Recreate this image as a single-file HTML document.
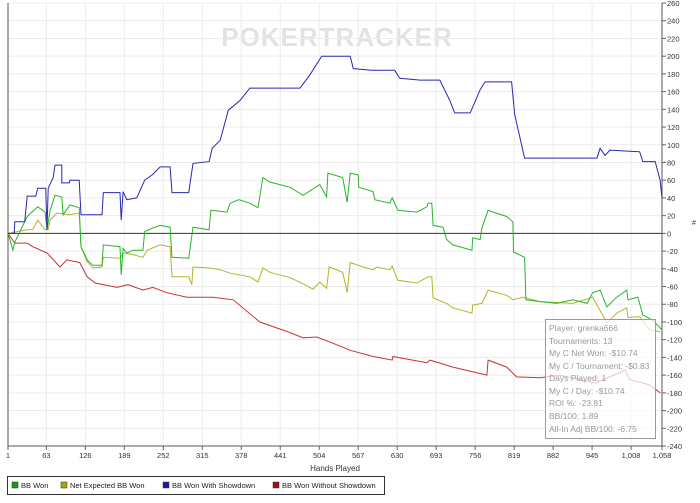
<!DOCTYPE html>
<html><head><meta charset="utf-8"><style>
body{margin:0;background:#fff;width:700px;height:498px;overflow:hidden;font-family:"Liberation Sans",sans-serif}
svg text{font-family:"Liberation Sans",sans-serif}
</style></head><body>
<svg id="c" width="700" height="498">
<text x="337" y="46" font-size="26" font-weight="bold" fill="#e2e2e2" text-anchor="middle" letter-spacing="1">POKERTRACKER</text>
<g id="grid"></g><g id="axes"></g><g id="series"></g>
<text x="335" y="471" font-size="8" fill="#333" text-anchor="middle">Hands Played</text>
<text x="694" y="225" font-size="7" fill="#333" text-anchor="middle">#</text>
<g>
<rect x="545.5" y="319.5" width="110" height="119" fill="rgba(255,255,255,0.7)" stroke="#999"/>
<g font-size="8.5" fill="#999">
<text x="549" y="331">Player: grenka666</text>
<text x="549" y="344">Tournaments: 13</text>
<text x="549" y="356">My C Net Won: -$10.74</text>
<text x="549" y="369">My C / Tournament: -$0.83</text>
<text x="549" y="381">Days Played: 1</text>
<text x="549" y="394">My C / Day: -$10.74</text>
<text x="549" y="406">ROI %: -23.81</text>
<text x="549" y="419">BB/100: 1.89</text>
<text x="549" y="432">All-In Adj BB/100: -6.75</text>
</g></g>
<g>
<rect x="7.5" y="476.5" width="377" height="18" fill="#fff" stroke="#333"/>
<g font-size="7.5" fill="#222">
<rect x="12" y="482" width="6" height="6" fill="#1a9a1a" stroke="#333" stroke-width="0.5"/><text x="21" y="488">BB Won</text>
<rect x="61" y="482" width="6" height="6" fill="#a8a800" stroke="#333" stroke-width="0.5"/><text x="70" y="488">Net Expected BB Won</text>
<rect x="163" y="482" width="6" height="6" fill="#1a1aa0" stroke="#333" stroke-width="0.5"/><text x="172" y="488">BB Won With Showdown</text>
<rect x="273" y="482" width="6" height="6" fill="#a01010" stroke="#333" stroke-width="0.5"/><text x="282" y="488">BB Won Without Showdown</text>
</g></g>
</svg>
<script>
const xTicks=[1,63,126,189,252,315,378,441,504,567,630,693,756,819,882,945,1008,1058];
const xTickLabels=["1","63","126","189","252","315","378","441","504","567","630","693","756","819","882","945","1,008","1,058"];
const yTicks=[260,240,220,200,180,160,140,120,100,80,60,40,20,0,-20,-40,-60,-80,-100,-120,-140,-160,-180,-200,-220,-240];
const greenHands=[1,9,12,32,49,61,64,69,77,88,90,101,116,119,129,138,153,155,182,184,187,193,203,219,222,235,247,263,266,293,300,326,329,355,360,374,392,405,413,424,457,478,505,516,518,542,549,554,567,568,591,594,618,622,631,662,678,680,686,688,704,710,720,751,752,764,767,777,785,807,817,818,836,838,861,888,914,937,946,958,969,985,1001,1003,1019,1027,1043,1058];
const greenValues=[0,-19,-10,19,30,24,4,26,43,41,21,32,29,-15,-30,-36,-36,-13,-15,-47,-17,-22,-19,-19,2,6,9,7,-27,-28,7,4,26,24,34,38,34,29,63,58,52,43,55,41,68,63,35,68,66,52,47,38,34,40,26,24,30,34,34,9,7,-7,-13,-19,-5,-7,6,26,24,19,13,-21,-27,-75,-77,-79,-75,-79,-67,-64,-83,-72,-64,-75,-72,-92,-98,-109];
const yellowHands=[1,32,41,49,61,66,69,80,101,116,119,129,138,153,155,182,187,203,219,226,247,263,266,293,298,300,326,344,360,392,405,413,424,457,481,494,505,516,520,542,549,554,575,591,597,618,622,631,662,680,686,688,710,720,751,752,767,777,807,817,833,861,914,946,969,985,1001,1003,1022,1038,1055];
const yellowValues=[0,4,4,15,4,4,15,23,21,23,-15,-32,-39,-38,-27,-28,-22,-24,-27,-19,-13,-15,-49,-49,-58,-38,-39,-41,-45,-49,-55,-39,-44,-50,-58,-63,-55,-62,-38,-44,-67,-33,-38,-41,-38,-41,-37,-53,-56,-49,-49,-73,-79,-84,-90,-81,-79,-64,-70,-75,-72,-77,-79,-72,-101,-90,-84,-95,-94,-109,-111];
const blueHands=[1,11,12,28,32,46,49,62,64,66,74,77,88,88,100,101,116,119,153,155,182,184,187,193,209,222,234,247,263,266,293,300,326,331,344,357,376,392,473,489,508,554,559,589,626,634,667,699,715,723,748,764,772,815,820,836,953,958,966,974,1022,1027,1047,1055,1058];
const blueValues=[0,0,13,13,42,42,51,51,4,51,63,77,77,57,57,60,60,21,21,46,46,15,47,38,40,60,66,75,75,46,46,79,81,96,105,139,150,164,164,179,200,200,186,184,184,175,173,173,150,136,136,162,171,171,134,85,85,96,88,94,92,81,81,60,40];
const redHands=[1,12,32,41,64,85,96,117,129,142,177,195,219,235,258,290,332,365,408,457,478,500,526,554,591,622,623,678,683,720,775,777,807,823,861,893,950,990,998,1006,1038,1055];
const redValues=[0,-11,-11,-15,-22,-38,-30,-33,-49,-56,-61,-58,-64,-61,-67,-72,-72,-75,-100,-112,-118,-117,-124,-132,-139,-143,-139,-146,-143,-151,-160,-143,-151,-162,-163,-160,-169,-157,-154,-165,-171,-180];

const X0=8,X1=662,Y0=446,Y1=3;
const sx=h=>X0+(h-1)/(1058-1)*(X1-X0);
const sy=v=>Y0-(v+240)/500*(Y0-Y1);
const NS="http://www.w3.org/2000/svg";
function mk(tag,attrs,parent){const e=document.createElementNS(NS,tag);for(const k in attrs)e.setAttribute(k,attrs[k]);parent.appendChild(e);return e;}
const grid=document.getElementById('grid'),axes=document.getElementById('axes'),ser=document.getElementById('series');
xTicks.forEach((t,i)=>{
  const x=sx(t);
  const g=mk('line',{x1:x,x2:x,y1:Y1,y2:Y0,stroke:'#ececec'},grid);
  
  
  mk('line',{x1:x,x2:x,y1:Y0,y2:Y0+4,stroke:'#666'},axes);
  const tx=mk('text',{x:x,y:Y0+12,'font-size':7.5,fill:'#333','text-anchor':'middle'},axes);
  tx.textContent=xTickLabels[i];
  
  
});
yTicks.forEach(t=>{
  const y=sy(t);
  if(t!==0){const g=mk('line',{x1:X0,x2:X1,y1:y,y2:y,stroke:'#ececec'},grid);
  
  }
  mk('line',{x1:X1,x2:X1+4,y1:y,y2:y,stroke:'#666'},axes);
  const tx=mk('text',{x:X1+5,y:y+3,'font-size':7.5,fill:'#333'},axes);
  tx.textContent=t;
  
  
});
const zl=mk('line',{x1:X0,x2:X1,y1:sy(0),y2:sy(0),stroke:'#333','stroke-width':1},axes);


mk('line',{x1:X0,x2:X0,y1:Y1,y2:Y0,stroke:'#555'},axes);
mk('line',{x1:X1,x2:X1,y1:Y1,y2:Y0,stroke:'#555'},axes);
mk('line',{x1:X0,x2:X1,y1:Y0,y2:Y0,stroke:'#555'},axes);
function draw(hs,vs,color,name){
  const d=hs.map((h,i)=>(i?'L':'M')+sx(h).toFixed(1)+','+sy(vs[i]).toFixed(1)).join('');
  const p=mk('path',{d:d,fill:'none',stroke:color,'stroke-width':1},ser);
  
  
}
draw(redHands,redValues,'#c83232','series-bb-won-without-showdown');
draw(yellowHands,yellowValues,'#b4b428','series-net-expected-bb-won');
draw(greenHands,greenValues,'#28b428','series-bb-won');
draw(blueHands,blueValues,'#2828b4','series-bb-won-with-showdown');
</script>
</body></html>
